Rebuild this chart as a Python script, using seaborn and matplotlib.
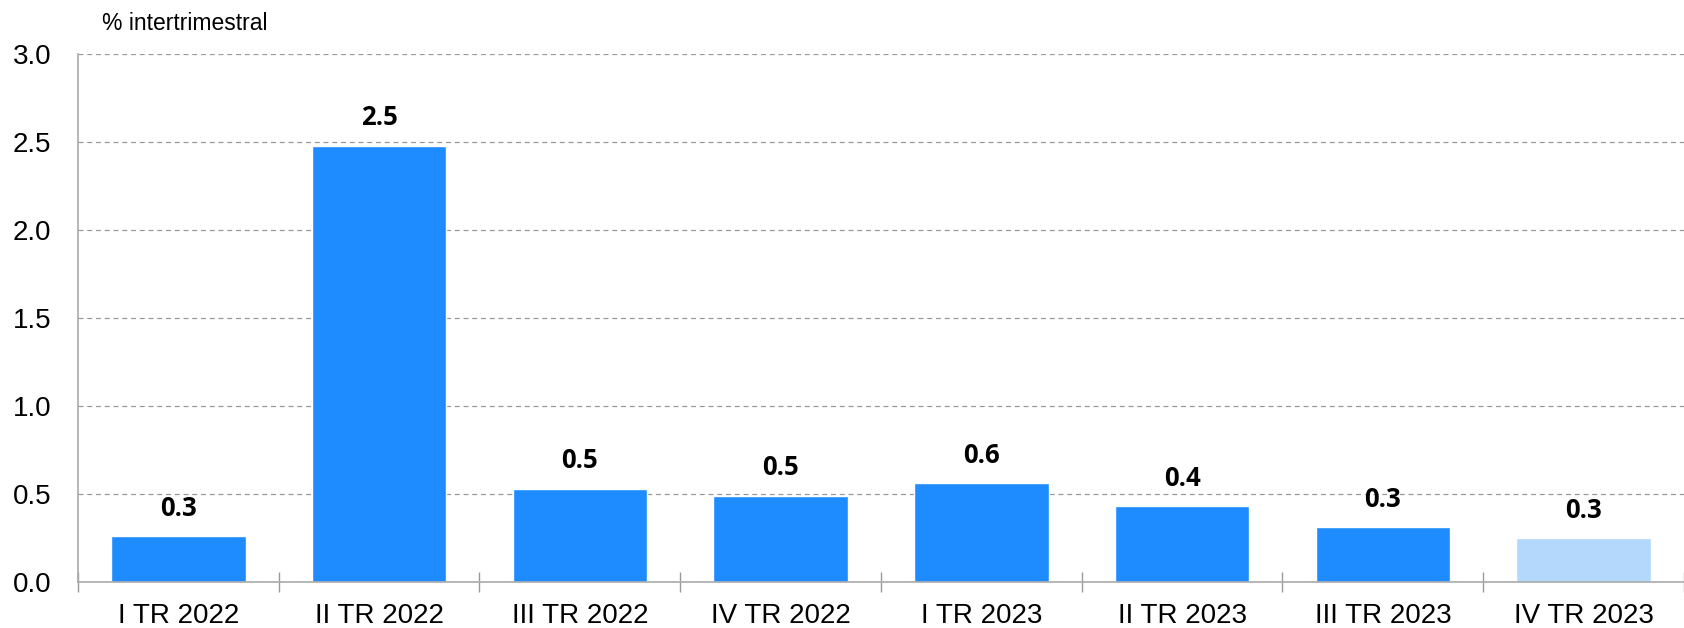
import matplotlib
matplotlib.use("Agg")
import matplotlib.pyplot as plt
import seaborn as sns
import pandas as pd
import numpy as np

trimestres = ['I TR 2022', 'II TR 2022', 'III TR 2022', 'IV TR 2022',
              'I TR 2023', 'II TR 2023', 'III TR 2023', 'IV TR 2023']
valores = [0.26, 2.48, 0.53, 0.49, 0.56, 0.43, 0.31, 0.25]
etiquetas = ['0.3', '2.5', '0.5', '0.5', '0.6', '0.4', '0.3', '0.3']
colores = ['#1E8CFF'] * 7 + ['#B3D8FC']

sns.set_style('white')
plt.rcParams['font.family'] = ['Liberation Sans', 'DejaVu Sans']
plt.rcParams['text.color'] = 'black'
plt.rcParams['xtick.color'] = 'black'
plt.rcParams['ytick.color'] = 'black'

df = pd.DataFrame({'trimestre': trimestres, 'valor': valores})

fig = plt.figure(figsize=(16.84, 6.28), dpi=100)
ax = fig.add_axes([0.0463, 0.0732, 0.9537, 0.8408])

sns.barplot(data=df, x='trimestre', y='valor', hue='trimestre', palette=colores,
            width=0.67, legend=False, ax=ax, saturation=1)

# etiquetas de valor encima de cada barra
for i, (v, t) in enumerate(zip(valores, etiquetas)):
    ax.annotate(t, (i, v), xytext=(0, 28), textcoords='offset pixels',
                ha='center', va='center', fontsize=18.5, fontweight='bold',
                family='Open Sans', color='black')

ax.set_ylim(0, 3.0)
ax.set_xlim(-0.5, 7.41)
ax.set_yticks(np.arange(0, 3.01, 0.5))
ax.set_yticklabels([f'{y:.1f}' for y in np.arange(0, 3.01, 0.5)], fontsize=20)
ax.yaxis.grid(True, linestyle=(0, (4, 3)), color='#999999', linewidth=0.9)
ax.set_axisbelow(True)

ax.set_xticks(range(len(trimestres)))
ax.set_xticklabels(trimestres, fontsize=20)
ax.set_xticks(np.arange(-0.5, 7.6, 1), minor=True)
ax.tick_params(axis='x', which='major', length=0, pad=15)
ax.tick_params(axis='x', which='minor', bottom=True, length=15, direction='inout',
               color='#999999', width=1)
ax.tick_params(axis='y', length=0, pad=19)

for s in ['top', 'right']:
    ax.spines[s].set_visible(False)
for s in ['left', 'bottom']:
    ax.spines[s].set_color('#aaaaaa')
    ax.spines[s].set_linewidth(1.2)

ax.set_xlabel('')
ax.set_ylabel('')
fig.text(102 / 1684, 1 - 23 / 628, '% intertrimestral', fontsize=16.5, ha='left', va='center')

fig.savefig('out.png', dpi=100)
